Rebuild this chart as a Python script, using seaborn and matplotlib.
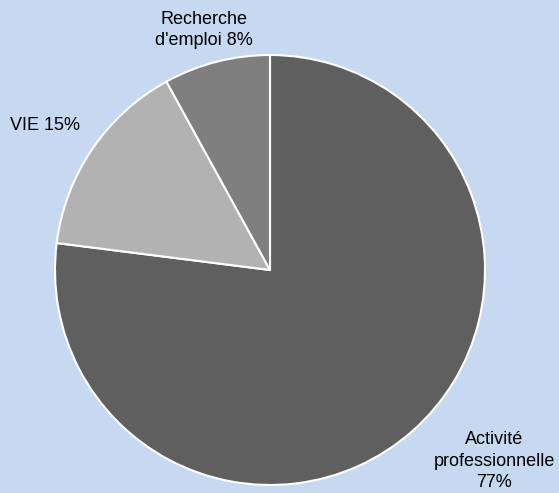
import matplotlib
matplotlib.use("Agg")
import matplotlib.pyplot as plt
import seaborn as sns

# Données
categories = ["Activité\nprofessionnelle\n77%", "VIE 15%", "Recherche\nd'emploi 8%"]
valeurs = [77, 15, 8]
couleurs = ["#5f5f5f", "#b2b2b2", "#7f7f7f"]

sns.set_theme(style="white")
plt.rcParams['font.family'] = ['Liberation Sans', 'DejaVu Sans']

fond = "#c6d9f0"
fig = plt.figure(figsize=(5.59, 4.93), dpi=100, facecolor=fond)
ax = fig.add_axes([0, 0, 1, 1])
ax.set_facecolor(fond)

wedges, _ = ax.pie(valeurs, colors=couleurs, startangle=90, counterclock=False,
                   radius=1.0, wedgeprops=dict(edgecolor="white", linewidth=1.5))

# Étiquettes (positions en pixels converties)
r = 215.0
cx, cy = 270, 270
positions = [(494, 461), (45, 125), (204, 30)]
for lab, (px, py) in zip(categories, positions):
    ax.text((px - cx) / r, (cy - py) / r, lab, ha="center", va="center",
            fontsize=13, color="black", linespacing=1.35)

ax.set_xlim(-cx / r, (559 - cx) / r)
ax.set_ylim(-(493 - cy) / r, cy / r)
ax.set_aspect("auto")
ax.axis("off")

fig.savefig("out.png", dpi=100, facecolor=fond)
